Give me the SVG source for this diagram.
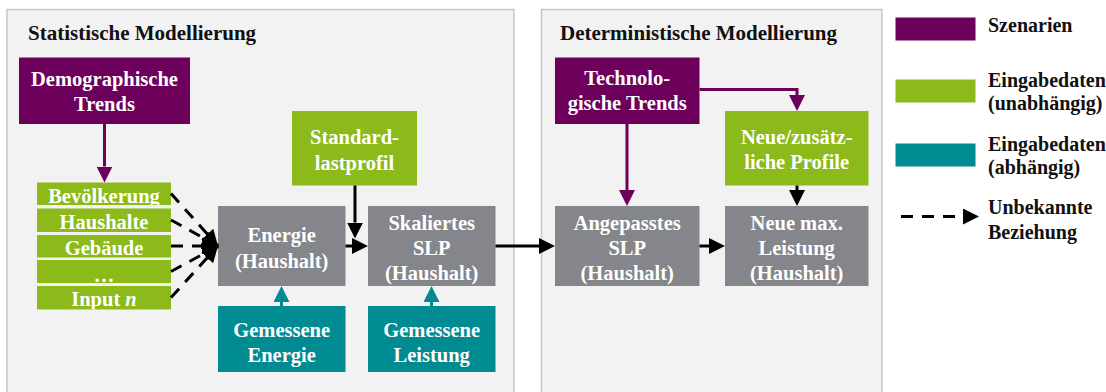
<svg xmlns="http://www.w3.org/2000/svg" width="1106" height="392" viewBox="0 0 1106 392">
<defs>
<style>
text{font-family:"Liberation Serif","Times New Roman",serif;font-weight:bold;font-size:20.5px}
.t{fill:#fff;text-anchor:middle}
.k{fill:#111;font-size:21px}
.lg{fill:#111;font-size:20px}
.panel{fill:#f2f2f2;stroke:#c6c6c6;stroke-width:1.5}
.pur{fill:#6c005a}
.grn{fill:#8bba1a}
.tea{fill:#008a92}
.gry{fill:#85868b}
.ln{fill:none;stroke:#000;stroke-width:3}
.lp{fill:none;stroke:#6c005a;stroke-width:3}
.lt{fill:none;stroke:#008a92;stroke-width:3}
.ds{fill:none;stroke:#000;stroke-width:3;stroke-dasharray:12 9}
</style>
<marker id="ab" viewBox="0 0 16 16" refX="0" refY="8" markerWidth="16" markerHeight="16" markerUnits="userSpaceOnUse" orient="auto"><path d="M0,0L16,8L0,16z" fill="#000"/></marker>
<marker id="abt" viewBox="0 0 16 16" refX="16" refY="8" markerWidth="16" markerHeight="16" markerUnits="userSpaceOnUse" orient="auto"><path d="M0,0L16,8L0,16z" fill="#000"/></marker>
<marker id="ap" viewBox="0 0 16 16" refX="0" refY="8" markerWidth="16" markerHeight="16" markerUnits="userSpaceOnUse" orient="auto"><path d="M0,0L16,8L0,16z" fill="#6c005a"/></marker>
<marker id="at" viewBox="0 0 16 16" refX="0" refY="8" markerWidth="16" markerHeight="16" markerUnits="userSpaceOnUse" orient="auto"><path d="M0,0L16,8L0,16z" fill="#008a92"/></marker>
<clipPath id="stack">
<rect x="37" y="182.5" width="134" height="22.5"/>
<rect x="37" y="208.5" width="134" height="23.5"/>
<rect x="37" y="235" width="134" height="22.5"/>
<rect x="37" y="260" width="134" height="23"/>
<rect x="37" y="286" width="134" height="23.5"/>
</clipPath>
</defs>

<g id="panel-statistisch">
<rect class="panel" x="7" y="9.5" width="507" height="400"/>
<text class="k" x="28" y="40">Statistische Modellierung</text>
</g>
<g id="panel-deterministisch">
<rect class="panel" x="541.5" y="9.5" width="340.5" height="400"/>
<text class="k" x="560" y="40">Deterministische Modellierung</text>
</g>

<g id="node-demographische-trends">
<rect class="pur" x="19" y="57.5" width="171" height="66.5"/>
<text class="t" x="104.5" y="86">Demographische</text>
<text class="t" x="104.5" y="110.5">Trends</text>
</g>
<g id="node-standardlastprofil">
<rect class="grn" x="292" y="111" width="125" height="74.5"/>
<text class="t" x="354.5" y="143.5">Standard-</text>
<text class="t" x="354.5" y="169.5">lastprofil</text>
</g>

<g id="node-bevoelkerung">
<rect class="grn" x="37" y="182.5" width="134" height="22.5"/>
<text class="t" x="104" y="202.5" clip-path="url(#stack)">Bevölkerung</text>
</g>
<g id="node-haushalte">
<rect class="grn" x="37" y="208.5" width="134" height="23.5"/>
<text class="t" x="104" y="228.5" clip-path="url(#stack)">Haushalte</text>
</g>
<g id="node-gebaeude">
<rect class="grn" x="37" y="235" width="134" height="22.5"/>
<text class="t" x="104" y="255" clip-path="url(#stack)">Gebäude</text>
</g>
<g id="node-ellipsis">
<rect class="grn" x="37" y="260" width="134" height="23"/>
<text class="t" x="104" y="281.5" clip-path="url(#stack)">…</text>
</g>
<g id="node-input-n">
<rect class="grn" x="37" y="286" width="134" height="23.5"/>
<text class="t" x="104" y="306" clip-path="url(#stack)">Input <tspan font-style="italic">n</tspan></text>
</g>

<g id="node-energie-haushalt">
<rect class="gry" x="218" y="206" width="127.5" height="80"/>
<text class="t" x="281.7" y="241.5">Energie</text>
<text class="t" x="281.7" y="268">(Haushalt)</text>
</g>
<g id="node-skaliertes-slp">
<rect class="gry" x="368" y="206" width="127.5" height="80"/>
<text class="t" x="431.7" y="229.5">Skaliertes</text>
<text class="t" x="431.7" y="255">SLP</text>
<text class="t" x="431.7" y="280">(Haushalt)</text>
</g>
<g id="node-gemessene-energie">
<rect class="tea" x="218" y="306" width="127.5" height="66"/>
<text class="t" x="281.7" y="336.5">Gemessene</text>
<text class="t" x="281.7" y="361.5">Energie</text>
</g>
<g id="node-gemessene-leistung">
<rect class="tea" x="368" y="306" width="127.5" height="66"/>
<text class="t" x="431.7" y="336.5">Gemessene</text>
<text class="t" x="431.7" y="361.5">Leistung</text>
</g>

<g id="node-technologische-trends">
<rect class="pur" x="555" y="57.5" width="144.5" height="66.5"/>
<text class="t" x="627.2" y="85">Technolo-</text>
<text class="t" x="627.2" y="110">gische Trends</text>
</g>
<g id="node-neue-profile">
<rect class="grn" x="725" y="111" width="143.5" height="74.5"/>
<text class="t" x="796.7" y="143.5">Neue/zusätz-</text>
<text class="t" x="796.7" y="168.5">liche Profile</text>
</g>
<g id="node-angepasstes-slp">
<rect class="gry" x="555" y="206" width="144.5" height="80"/>
<text class="t" x="627.2" y="229.5">Angepasstes</text>
<text class="t" x="627.2" y="255">SLP</text>
<text class="t" x="627.2" y="280">(Haushalt)</text>
</g>
<g id="node-neue-max-leistung">
<rect class="gry" x="725" y="206" width="143.5" height="80"/>
<text class="t" x="796.7" y="229.5">Neue max.</text>
<text class="t" x="796.7" y="255">Leistung</text>
<text class="t" x="796.7" y="280">(Haushalt)</text>
</g>

<g id="connectors">
<path class="lp" d="M104.5,124V166.5" marker-end="url(#ap)"/>
<path class="ln" d="M355,185.5V222.5" marker-end="url(#ab)"/>
<path class="ln" d="M345.5,246H352" marker-end="url(#ab)"/>
<path class="ln" d="M495.5,246H539" marker-end="url(#ab)"/>
<path class="ln" d="M699.5,246H709" marker-end="url(#ab)"/>
<path class="ln" d="M797,185.5V190" marker-end="url(#ab)"/>
<path class="lp" d="M627,124V190" marker-end="url(#ap)"/>
<path class="lp" d="M699.5,89.5H797V95" stroke-width="2" marker-end="url(#ap)"/>
<path class="lt" d="M281.5,306V302" marker-end="url(#at)"/>
<path class="lt" d="M431.5,306V302" marker-end="url(#at)"/>
<path class="ds" d="M171,193.5L218,246" marker-end="url(#abt)"/>
<path class="ds" d="M171,220L218,246" marker-end="url(#abt)"/>
<path class="ds" d="M171,246L218,246" marker-end="url(#abt)"/>
<path class="ds" d="M171,271.5L218,246" marker-end="url(#abt)"/>
<path class="ds" d="M171,297.5L218,246" marker-end="url(#abt)"/>
</g>

<g id="legend">
<rect class="pur" x="895.5" y="17.5" width="80" height="23"/>
<text class="lg" x="988" y="32">Szenarien</text>
<rect class="grn" x="895.5" y="79.5" width="80" height="23"/>
<text class="lg" x="988" y="87">Eingabedaten</text>
<text class="lg" x="988" y="110">(unabhängig)</text>
<rect class="tea" x="895.5" y="143.5" width="80" height="23"/>
<text class="lg" x="988" y="151">Eingabedaten</text>
<text class="lg" x="988" y="174">(abhängig)</text>
<path class="ds" d="M901,216.5H963" stroke-dasharray="13 9" marker-end="url(#ab)"/>
<text class="lg" x="988" y="213.5">Unbekannte</text>
<text class="lg" x="988" y="238.5">Beziehung</text>
</g>
</svg>
